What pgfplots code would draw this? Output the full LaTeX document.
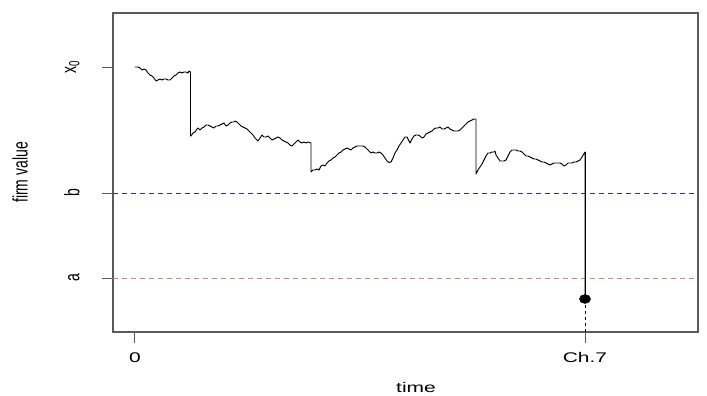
\documentclass[border=0pt]{standalone}
\usepackage{pgfplots}
\pgfplotsset{compat=1.18}
\usepackage{graphicx}
\usepackage{fontspec}
\setmainfont{Liberation Sans}
\definecolor{bcol}{RGB}{45,45,185}
\definecolor{acol}{RGB}{215,130,130}
\definecolor{framecol}{RGB}{90,90,90}
\begin{document}
\begin{tikzpicture}
\begin{axis}[
  scale only axis, width=585pt, height=319pt,
  xmin=113, xmax=698, ymin=13, ymax=332, y dir=reverse,
  axis line style={framecol, line width=1.1pt},
  tick style={framecol, line width=1pt},
  tick align=outside, major tick length=11pt,
  xtick={135,585}, xticklabels={\scalebox{1.5}[1]{0},\scalebox{1.5}[1]{Ch.7}},
  ytick={67,193,278}, yticklabels={\scalebox{1}[1.5]{x\textsubscript{0}},\scalebox{1}[1.5]{b},\scalebox{1}[1.5]{a}},
  xtick pos=bottom, ytick pos=left,
  ticklabel style={font=\fontsize{14}{16}\selectfont},
  yticklabel style={rotate=90, anchor=south, yshift=19pt},
  xticklabel style={yshift=-6pt},
  xlabel={\scalebox{1.5}[1]{time}}, ylabel={\scalebox{1}[1.5]{firm value}},
  label style={font=\fontsize{14}{16}\selectfont},
  x label style={at={(rel axis cs:0.518,0)}, anchor=center, yshift=-55pt},
  y label style={at={(rel axis cs:0,0.5)}, anchor=center, yshift=93pt},
  clip=false,
]
\coordinate (bl) at (axis cs:0,396);
\coordinate (tr) at (axis cs:707,0);
\addplot[bcol, line width=0.9pt, dash pattern=on 5pt off 4pt] coordinates {(113,193) (698,193)};
\addplot[acol, line width=0.9pt, dash pattern=on 5pt off 4pt] coordinates {(113,278) (698,278)};
\addplot[black, line width=0.9pt, line join=round] coordinates {
(135,67) (138,67) (140,68) (142,70) (144,69) (146,70) (148,73) (150,75) (152,76) (154,78) (156,81) (158,80) (160,79) (162,80) (164,79) (166,79) (168,80) (170,80) (172,78) (174,76) (176,75) (178,73) (180,72) (182,73) (184,72) (186,72) (188,73) (189,71) (190.5,72)
(190.5,136)
(191,136) (193,133) (195,132) (197,129) (198,128) (200,130) (202,128) (204,127) (206,125) (208,125) (210,126) (212,127) (214,128) (216,126) (218,126) (220,125) (222,124) (224,123) (226,126) (228,125) (230,123) (232,122) (234,122) (235,121) (237,122) (239,124) (241,126) (243,127) (245,128) (247,129) (249,131) (251,133) (253,135) (255,138) (257,140) (258,141) (260,138) (262,135) (264,137) (266,137) (268,136) (270,138) (272,140) (274,139) (276,138) (278,137) (280,138) (282,140) (284,141) (286,142) (288,143) (290,145) (292,146) (294,144) (296,142) (298,140) (300,142) (302,143) (304,142) (306,143) (308,142) (311,143)
(311,172)
(313,170) (315,170) (317,169) (319,170) (321,166) (323,165) (325,166) (327,163) (329,161) (331,160) (333,158) (335,157) (337,155) (339,153) (341,152) (343,150) (345,149) (347,148) (349,149) (351,150) (353,148) (355,147) (357,146) (359,146) (361,146) (363,146) (365,147) (367,149) (369,151) (371,153) (373,152) (375,153) (377,153) (379,152) (381,153) (383,155) (385,158) (387,161) (389,162.5) (391,162) (393,158) (395,153) (397,150) (399,146) (401,143) (403,140) (405,137) (407,137) (409,141) (410,143) (412,139) (414,136) (416,135) (418,135) (420,136) (422,138) (424,137) (426,134) (428,133) (430,132) (432,131) (434,129) (436,128) (438,128) (440,127) (442,129) (444,129) (446,128) (448,127) (450,129) (452,130) (454,131) (456,131) (458,131) (460,130) (462,128) (464,126) (466,124) (468,122) (470,121) (472,120) (474,119) (476,119)
(476,174)
(478,170) (480,167) (482,164) (484,160) (486,156) (488,153) (490,153) (492,152) (494,152) (495,151) (496,155) (498,158) (500,161) (502,161) (504,161) (506,160) (508,156) (510,152) (512,150) (514,150) (516,150) (518,151) (520,151) (522,152) (524,154) (526,156) (528,156) (530,157) (532,158) (534,159) (536,159) (538,160) (540,161) (542,162) (544,162) (546,163) (548,164) (550,165) (552,164) (554,163) (556,163) (558,163) (560,163) (562,164) (564,166) (566,165) (568,163) (570,163) (572,163) (574,162) (576,162) (578,161) (580,160) (582,157) (585,152)
(585,299)
};
\addplot[black, line width=0.5pt] coordinates {(585,152) (585,299)};
\addplot[black, line width=0.9pt, dash pattern=on 3pt off 3pt] coordinates {(585,299) (585,332)};
\addplot[black, only marks, mark=*, mark size=4.5pt, mark options={xscale=1.25}] coordinates {(585,299)};
\end{axis}
\pgfresetboundingbox
\path (bl) rectangle (tr);
\end{tikzpicture}
\end{document}
